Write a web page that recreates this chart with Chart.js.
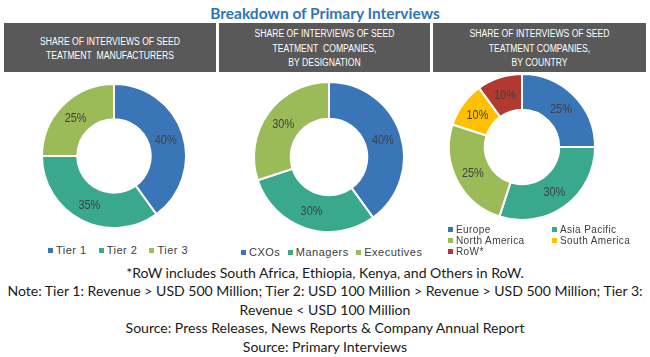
<!DOCTYPE html>
<html><head><meta charset="utf-8">
<script src="https://cdn.jsdelivr.net/npm/chart.js@4.4.1/dist/chart.umd.min.js"></script>
<style>
html,body{margin:0;padding:0;background:#fff;width:650px;height:357px;overflow:hidden;position:relative;}
.abs{position:absolute;}
#title{left:0;width:650px;top:3px;height:20px;line-height:20px;text-align:center;font-family:Lato,"Liberation Sans",sans-serif;font-weight:bold;font-size:15.5px;color:#2E75B6;white-space:nowrap;}
.hdr{position:absolute;box-sizing:border-box;background:#595959;top:23px;height:49px;padding-top:3px;color:#fff;text-align:center;font-family:"Liberation Sans",Arial,sans-serif;font-size:10px;line-height:14.5px;display:flex;flex-direction:column;justify-content:center;white-space:nowrap;}
.hdr div{transform:scaleX(0.86);transform-origin:center;}
.cw{position:absolute;width:160px;height:160px;}
.foot{position:absolute;left:0;width:650px;text-align:center;height:18px;line-height:18px;font-family:Lato,"Liberation Sans",sans-serif;font-size:13px;color:#1a1a1a;white-space:nowrap;}
.leg{position:absolute;font-family:"Liberation Sans",Arial,sans-serif;color:#404040;white-space:nowrap;}
.li{position:absolute;display:flex;align-items:center;height:12px;}
.mk{display:inline-block;width:5px;height:5px;margin-right:3px;}
</style></head>
<body>
<div id="title" class="abs">Breakdown of Primary Interviews</div>
<div class="hdr" style="left:4px;width:212px;"><div>SHARE OF INTERVIEWS OF SEED</div><div>TEATMENT&nbsp; MANUFACTURERS</div></div>
<div class="hdr" style="left:219px;width:211px;"><div>SHARE OF INTERVIEWS OF SEED</div><div>TEATMENT&nbsp; COMPANIES,</div><div>BY DESIGNATION</div></div>
<div class="hdr" style="left:433px;width:213px;"><div>SHARE OF INTERVIEWS OF SEED</div><div>TEATMENT COMPANIES,</div><div>BY COUNTRY</div></div>

<div class="cw" style="left:34px;top:76px;"><canvas id="c1"></canvas></div>
<div class="cw" style="left:249px;top:77px;"><canvas id="c2"></canvas></div>
<div class="cw" style="left:442px;top:67px;"><canvas id="c3"></canvas></div>

<div id="leg1" class="leg" style="left:0;top:244px;width:230px;height:12px;"></div>
<div id="leg2" class="leg" style="left:219px;top:246px;width:216px;height:12px;"></div>
<div id="leg3" class="leg" style="left:444px;top:223px;width:206px;height:36px;"></div>

<div class="foot" style="top:264px;">*RoW includes South Africa, Ethiopia, Kenya, and Others in RoW.</div>
<div class="foot" id="note" style="top:282px;">Note: Tier 1: Revenue &gt; USD 500 Million; Tier 2: USD 100 Million &gt; Revenue &gt; USD 500 Million; Tier 3:</div>
<div class="foot" style="top:301px;">Revenue &lt; USD 100 Million</div>
<div class="foot" style="top:319px;">Source: Press Releases, News Reports &amp; Company Annual Report</div>
<div class="foot" style="top:338px;">Source: Primary Interviews</div>

<script>
// ---- data ----
const tierLabels = ['Tier 1', 'Tier 2', 'Tier 3'];
const tierValues = [40, 35, 25];
const designationLabels = ['CXOs', 'Managers', 'Executives'];
const designationValues = [40, 30, 30];
const countryLabels = ['Europe', 'Asia Pacific', 'North America', 'South America', 'RoW*'];
const countryValues = [25, 30, 25, 10, 10];

const BLUE = '#3A75B7', TEAL = '#3AA88C', GREEN = '#9BBB59', YELLOW = '#FFC000', RED = '#B3382F';
const tierColors = [BLUE, TEAL, GREEN];
const designationColors = [BLUE, TEAL, GREEN];
const countryColors = [BLUE, TEAL, GREEN, YELLOW, RED];

const pctLabels = {
  id: 'pctLabels',
  afterDatasetsDraw(chart) {
    const ctx = chart.ctx;
    const ds = chart.data.datasets[0];
    chart.getDatasetMeta(0).data.forEach((arc, i) => {
      const p = arc.tooltipPosition();
      ctx.save();
      ctx.translate(p.x, p.y + 1);
      ctx.scale(0.84, 1);
      ctx.font = '13px "Liberation Sans", Arial';
      ctx.fillStyle = '#404040';
      ctx.textAlign = 'center';
      ctx.textBaseline = 'middle';
      ctx.fillText(ds.data[i] + '%', 0, 0);
      ctx.restore();
    });
  }
};

function donut(id, labels, values, colors, radius) {
  return new Chart(document.getElementById(id), {
    type: 'doughnut',
    data: { labels: labels, datasets: [{ data: values, backgroundColor: colors, borderColor: '#ffffff', borderWidth: 2, hoverOffset: 0 }] },
    options: {
      responsive: true, maintainAspectRatio: false, animation: false, events: [],
      radius: radius, cutout: '51%', rotation: 0,
      layout: { padding: 0 },
      plugins: { legend: { display: false }, tooltip: { enabled: false } }
    },
    plugins: [pctLabels]
  });
}

const ch1 = donut('c1', tierLabels, tierValues, tierColors, 72);
const ch2 = donut('c2', designationLabels, designationValues, designationColors, 75);
const ch3 = donut('c3', countryLabels, countryValues, countryColors, 73);

function legendItems(chart) {
  return chart.data.labels.map((l, i) => ({ text: l, color: chart.data.datasets[0].backgroundColor[i] }));
}
function makeItem(it, fontSize, ls) {
  const d = document.createElement('div');
  d.className = 'li';
  d.style.fontSize = fontSize + 'px';
  d.style.letterSpacing = ls + 'px';
  const m = document.createElement('span');
  m.className = 'mk'; m.style.background = it.color;
  const t = document.createElement('span'); t.textContent = it.text;
  d.appendChild(m); d.appendChild(t);
  return d;
}
// horizontal legends starting at given left
function rowLegend(elId, chart, leftX, gap) {
  const box = document.getElementById(elId);
  const wrap = document.createElement('div');
  wrap.style.cssText = 'position:absolute;top:0;display:flex;gap:' + gap + 'px;';
  legendItems(chart).forEach(it => { const d = makeItem(it, 11, 0.5); d.style.position = 'static'; wrap.appendChild(d); });
  box.appendChild(wrap);
  wrap.style.left = (leftX - box.offsetLeft) + 'px';
}
rowLegend('leg1', ch1, 48, 12);
rowLegend('leg2', ch2, 241, 7.5);
// two-column legend
(function () {
  const box = document.getElementById('leg3');
  legendItems(ch3).forEach((it, i) => {
    const d = makeItem(it, 10, 0.4);
    d.style.left = (i % 2 ? 108 : 4) + 'px';
    d.style.top = (Math.floor(i / 2) * 11.3) + 'px';
    box.appendChild(d);
  });
})();

// fit footnote font so the long note line matches the reference width
(function () {
  const note = document.getElementById('note');
  const span = document.createElement('span');
  span.textContent = note.textContent;
  span.style.cssText = 'position:absolute;visibility:hidden;white-space:nowrap;font-family:Lato,"Liberation Sans",sans-serif;font-size:13px;';
  document.body.appendChild(span);
  const w = span.getBoundingClientRect().width;
  span.remove();
  const fs = 13 * 636 / w;
  document.querySelectorAll('.foot').forEach(el => el.style.fontSize = fs + 'px');
})();
</script>
</body></html>
